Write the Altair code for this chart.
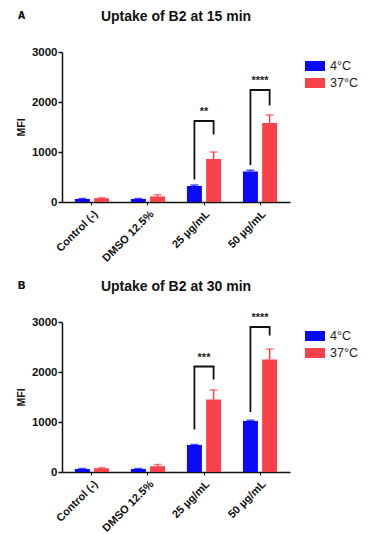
import altair as alt
import pandas as pd

categories = ["Control (-)", "DMSO 12.5%", "25 µg/mL", "50 µg/mL"]
groups = ["4°C", "37°C"]
colors = ["#0A0AF5", "#F9414A"]

# panel A (15 min)
a_4 = [60, 60, 320, 610]
a_37 = [75, 110, 860, 1580]
a_err4 = [10, 10, 20, 25]
a_err37 = [10, 35, 140, 160]
# panel B (30 min)
b_4 = [60, 60, 540, 1020]
b_37 = [75, 115, 1450, 2250]
b_err4 = [10, 10, 10, 15]
b_err37 = [10, 35, 190, 210]

# significance brackets: category, left-leg bottom, top, right-leg bottom, label
a_sig_cat = ["25 µg/mL", "50 µg/mL"]
a_sig_left = [450, 740]
a_sig_top = [1620, 2240]
a_sig_right = [1350, 1930]
a_sig_label = ["**", "****"]

b_sig_cat = ["25 µg/mL", "50 µg/mL"]
b_sig_left = [850, 1200]
b_sig_top = [2110, 2900]
b_sig_right = [1850, 2730]
b_sig_label = ["***", "****"]

titles = ["Uptake of B2 at 15 min", "Uptake of B2 at 30 min"]
letters = ["A", "B"]
y_ticks = [0, 1000, 2000, 3000]


def panel(v4, v37, e4, e37, scat, sleft, stop, sright, slabel, title, letter):
    rows = []
    for i, c in enumerate(categories):
        rows.append({"cat": c, "grp": groups[0], "val": v4[i], "top": v4[i] + e4[i]})
        rows.append({"cat": c, "grp": groups[1], "val": v37[i], "top": v37[i] + e37[i]})
    df = pd.DataFrame(rows)

    brows = []
    for j, c in enumerate(scat):
        brows.append({"cat": c, "grp": groups[0], "y": sleft[j], "k": j, "o": 0})
        brows.append({"cat": c, "grp": groups[0], "y": stop[j], "k": j, "o": 1})
        brows.append({"cat": c, "grp": groups[1], "y": stop[j], "k": j, "o": 2})
        brows.append({"cat": c, "grp": groups[1], "y": sright[j], "k": j, "o": 3})
    bdf = pd.DataFrame(brows)
    ldf = pd.DataFrame({"cat": scat, "y": stop, "label": slabel})

    x = alt.X("cat:N", sort=categories, title=None,
              scale=alt.Scale(paddingInner=0.39, paddingOuter=0.23),
              axis=alt.Axis(labelAngle=-45, labelFontWeight="bold", labelFontSize=11,
                            labelColor="#111", domainColor="#111", domainWidth=1.5,
                            tickColor="#111", tickSize=3, labelPadding=3))
    xo = alt.XOffset("grp:N", sort=groups, scale=alt.Scale(paddingInner=0.22))
    yscale = alt.Scale(domain=[0, 3000], nice=False)
    cscale = alt.Scale(domain=groups, range=colors)
    color = alt.Color("grp:N", sort=groups, scale=cscale,
                      legend=alt.Legend(title=None, orient="none", legendX=243, legendY=4,
                                        symbolType="M-1,-0.5H1V0.5H-1Z", symbolSize=400,
                                        symbolStrokeWidth=0, labelFontSize=12.5,
                                        labelColor="#222", rowPadding=-2, symbolOffset=0,
                                        labelOffset=5))

    base = alt.Chart(df)
    bars = base.mark_bar().encode(
        x=x, xOffset=xo,
        y=alt.Y("val:Q", scale=yscale, title="MFI",
                axis=alt.Axis(values=y_ticks, format="d", grid=False, labelFontWeight="bold",
                              labelFontSize=11.5, labelColor="#111", titleFontSize=10.5,
                              titleFontWeight="bold", titleColor="#111", domainColor="#111",
                              domainWidth=1.5, tickColor="#111", tickSize=4, tickWidth=1.5,
                              labelPadding=1, titlePadding=5)),
        color=color)
    err = base.mark_rule(strokeWidth=1.5).encode(
        x=x, xOffset=xo, y="val:Q", y2="top:Q",
        color=alt.Color("grp:N", sort=groups, scale=cscale, legend=None))
    cap = base.mark_tick(thickness=1.5, size=8).encode(
        x=x, xOffset=xo, y="top:Q",
        color=alt.Color("grp:N", sort=groups, scale=cscale, legend=None))
    br = alt.Chart(bdf).mark_line(color="#111", strokeWidth=1.8).encode(
        x=x, xOffset=xo, y="y:Q", detail="k:N", order="o:Q")
    lab = alt.Chart(ldf).mark_text(fontSize=11, color="#222", dy=-4, baseline="bottom",
                                   fontWeight="bold").encode(
        x=x, y="y:Q", text="label:N")
    let = alt.Chart(ldf).mark_text(text=letter, fontSize=10, fontWeight="bold", color="#111",
                                   align="left", baseline="middle").encode(
        x=alt.value(-44), y=alt.value(-36))

    return alt.layer(bars, err, cap, br, lab, let).properties(
        width=228, height=150,
        title=alt.TitleParams(title, fontSize=14, fontWeight="bold", color="#111",
                              anchor="middle", offset=-13, font="Liberation Sans"))


pa = panel(a_4, a_37, a_err4, a_err37, a_sig_cat, a_sig_left, a_sig_top, a_sig_right,
           a_sig_label, titles[0], letters[0])
pb = panel(b_4, b_37, b_err4, b_err37, b_sig_cat, b_sig_left, b_sig_top, b_sig_right,
           b_sig_label, titles[1], letters[1])

chart = alt.vconcat(pa, pb, spacing=16).resolve_scale(color="independent").resolve_legend(
    color="independent").properties(
    padding={"left": 16, "top": 10, "right": 5, "bottom": 5}, background="white"
).configure(font="Liberation Sans").configure_view(stroke=None)

chart.save("out.html", embed_options={"renderer": "svg", "actions": False})
